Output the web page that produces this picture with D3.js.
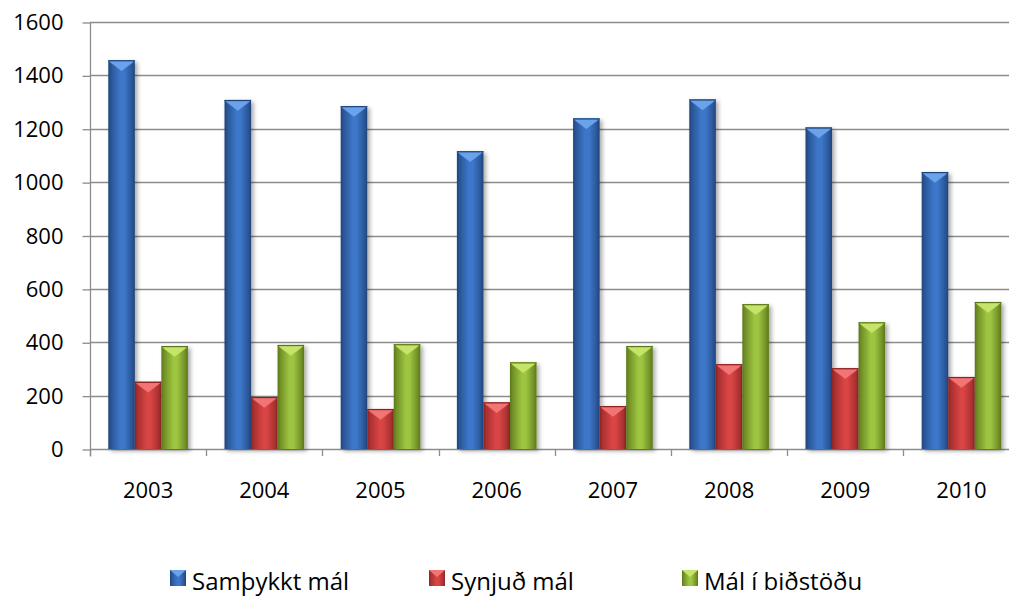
<!DOCTYPE html>
<html>
<head>
<meta charset="utf-8">
<script src="https://cdn.jsdelivr.net/npm/d3@7/dist/d3.min.js"></script>
<style>
  html, body { margin: 0; padding: 0; background: #fff; }
  svg { display: block; font-family: "Open Sans", Lato, sans-serif; }
</style>
</head>
<body>
<svg id="chart" width="1009" height="597"></svg>
<script>
// Yearly case counts
const years = ["2003", "2004", "2005", "2006", "2007", "2008", "2009", "2010"];
const seriesNames = ["Samþykkt mál", "Synjuð mál", "Mál í biðstöðu"];
const approved = [1457, 1308, 1285, 1116, 1239, 1310, 1205, 1038];
const rejected = [252, 195, 150, 175, 161, 318, 303, 270];
const pending = [386, 390, 393, 325, 386, 543, 475, 551];
const yTicks = [0, 200, 400, 600, 800, 1000, 1200, 1400, 1600];

const seriesValues = [approved, rejected, pending];
const palette = [
  { mid: "#3d77c9", edge: "#2a5596", light: "#6aa3ec", dark: "#1f4379" },
  { mid: "#d84444", edge: "#a83030", light: "#f27575", dark: "#8a2222" },
  { mid: "#9dc541", edge: "#718f27", light: "#c6e46a", dark: "#5b7719" }
];

const svg = d3.select("#chart");
const W = 1009, H = 597;
const plotLeft = 90, catW = 116.2, plotTop = 22, plotBottom = 449;
const fontAxis = 22, fontLegend = 24;

const x = d3.scaleBand().domain(years).range([plotLeft, plotLeft + catW * years.length]).padding(0);
const groupPad = 18.3;
const xs = d3.scaleBand().domain(d3.range(3)).range([groupPad, catW - groupPad]).padding(0);
const y = d3.scaleLinear().domain([0, 1600]).range([plotBottom, plotTop]);

const defs = svg.append("defs");
palette.forEach((p, i) => {
  const g = defs.append("linearGradient").attr("id", "bar" + i)
    .attr("x1", "0").attr("x2", "1").attr("y1", "0").attr("y2", "0");
  g.append("stop").attr("offset", "0").attr("stop-color", p.dark);
  g.append("stop").attr("offset", "0.1").attr("stop-color", p.edge);
  g.append("stop").attr("offset", "0.45").attr("stop-color", p.mid);
  g.append("stop").attr("offset", "0.6").attr("stop-color", p.mid);
  g.append("stop").attr("offset", "0.9").attr("stop-color", p.edge);
  g.append("stop").attr("offset", "1").attr("stop-color", p.dark);
});
const sh = defs.append("filter").attr("id", "shadow")
  .attr("x", "-20%").attr("y", "-5%").attr("width", "160%").attr("height", "120%");
sh.append("feDropShadow").attr("dx", 2.5).attr("dy", 2).attr("stdDeviation", 2)
  .attr("flood-color", "#000").attr("flood-opacity", 0.35);

// Horizontal gridlines
svg.append("g").selectAll("line").data(yTicks).join("line")
  .attr("x1", plotLeft).attr("x2", W)
  .attr("y1", d => Math.round(y(d)) + 0.5).attr("y2", d => Math.round(y(d)) + 0.5)
  .attr("stroke", "#8c8c8c").attr("stroke-width", 1.3);

// Y axis
const yAxis = svg.append("g").attr("transform", `translate(${plotLeft + 0.5},0.5)`)
  .call(d3.axisLeft(y).tickValues(yTicks).tickSize(8).tickPadding(19).tickFormat(d3.format("d")));
yAxis.select(".domain").attr("stroke", "#8c8c8c").attr("stroke-width", 1.3)
  .attr("d", `M0,${plotTop - 0.5}V${plotBottom + 7}`);
yAxis.selectAll(".tick line").attr("stroke", "#8c8c8c").attr("stroke-width", 1.3);
yAxis.selectAll(".tick text").attr("font-size", fontAxis).attr("fill", "#000")
  .attr("font-family", "'Open Sans', Lato, sans-serif");

// X axis with ticks between categories
const boundaries = d3.range(years.length + 1).map(i => plotLeft + i * catW);
svg.append("g").selectAll("line").data(boundaries).join("line")
  .attr("x1", d => Math.round(d) + 0.5).attr("x2", d => Math.round(d) + 0.5)
  .attr("y1", plotBottom).attr("y2", plotBottom + 7)
  .attr("stroke", "#8c8c8c").attr("stroke-width", 1.3);
svg.append("g").selectAll("text").data(years).join("text")
  .attr("x", d => x(d) + x.bandwidth() / 2).attr("y", 498)
  .attr("text-anchor", "middle").attr("font-size", fontAxis).attr("fill", "#000")
  .text(d => d);

// Bars
const bars = [];
years.forEach((yr, i) => {
  seriesValues.forEach((vals, s) => bars.push({ yr, s, v: vals[i] }));
});
const barG = svg.append("g").selectAll("g").data(bars).join("g")
  .attr("transform", d => `translate(${x(d.yr) + xs(d.s)},${y(d.v)})`);
const bw = xs.bandwidth();
barG.append("rect")
  .attr("width", bw).attr("height", d => y(0) - y(d.v))
  .attr("fill", d => `url(#bar${d.s})`).attr("filter", "url(#shadow)");
// bevelled cap on top of each bar
barG.append("path")
  .attr("d", `M0,0H${bw}L${bw - 3},3L${bw / 2},11L3,3Z`)
  .attr("fill", d => palette[d.s].light);
barG.append("path")
  .attr("d", `M3,3L${bw / 2},11L${bw - 3},3`)
  .attr("fill", "none").attr("stroke", d => palette[d.s].mid).attr("stroke-width", 0.8).attr("opacity", 0.6);
barG.append("rect")
  .attr("width", bw).attr("height", 1.2).attr("fill", d => palette[d.s].dark);

// Legend
const legendX = [170, 429, 682];
const lg = svg.append("g").selectAll("g").data(seriesNames).join("g")
  .attr("transform", (d, i) => `translate(${legendX[i]},570)`);
lg.append("rect").attr("width", 16).attr("height", 16)
  .attr("fill", (d, i) => `url(#bar${i})`);
lg.append("path").attr("d", "M0,0H16L8,7Z").attr("fill", (d, i) => palette[i].light);
lg.append("text").attr("x", 22).attr("y", 20).attr("font-size", fontLegend).attr("fill", "#000")
  .text(d => d);
</script>
</body>
</html>
